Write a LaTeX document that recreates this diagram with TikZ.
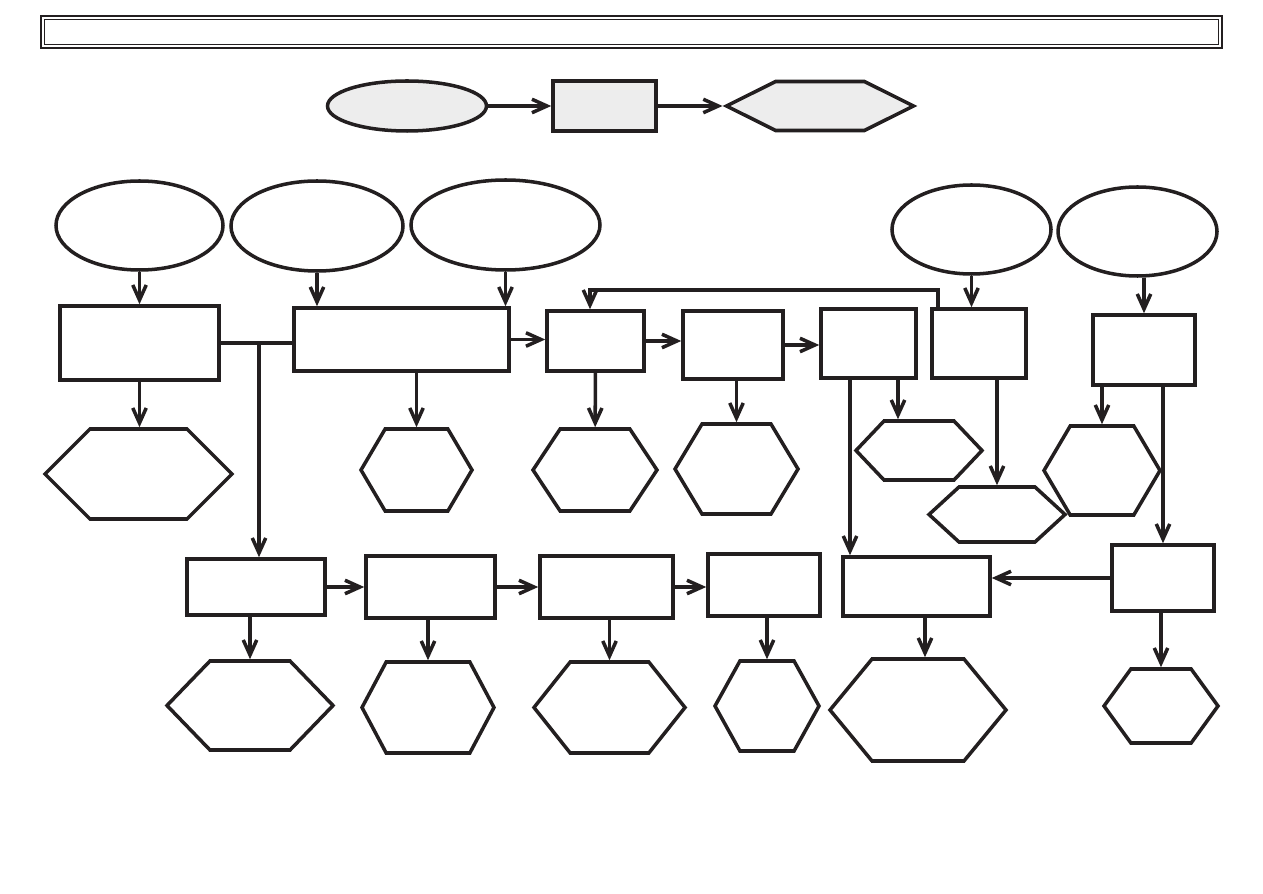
\documentclass[tikz,border=0pt]{standalone}
\usepackage{xcolor}
\usepackage{tikz}
\usetikzlibrary{arrows.meta,shapes.geometric,shapes.symbols}
\definecolor{ink}{HTML}{231F20}
\definecolor{shade}{HTML}{EDEDED}

\begin{document}
\begin{tikzpicture}[line width=2pt,draw=ink,
  arr/.style={-{Straight Barb[length=0.3cm,width=0.27cm]}},
  box/.style={draw=ink,rectangle,inner sep=0pt},
  oval/.style={draw=ink,ellipse,inner sep=0pt},
  hexa/.style={draw=ink,signal,signal from=nowhere,signal to=east and west,inner sep=0pt,signal pointer angle=#1},
  hexa/.default=110]
  \useasboundingbox (0,0) rectangle (25.26,17.86);
  % title bar
  \node[box,line width=1.5pt,minimum width=23.62cm,minimum height=0.64cm] (title) at (12.63,17.22) {};
  \draw[line width=0.6pt] ([shift={(0.09,-0.09)}]title.north west) rectangle ([shift={(-0.09,0.09)}]title.south east);
  % legend
  \node[oval,fill=shade,minimum width=3.18cm,minimum height=1.0cm] (lo) at (8.14,15.74) {};
  \node[box,fill=shade,minimum width=2.06cm,minimum height=1.0cm] (lb) at (12.09,15.74) {};
  \node[hexa=53,fill=shade,minimum width=3.74cm,minimum height=0.98cm] (lh) at (16.40,15.74) {};
  \draw[arr] (lo) -- (lb); \draw[arr] (lb) -- (lh);
  % inputs
  \node[oval,minimum width=3.34cm,minimum height=1.78cm] (e1) at (2.79,13.35) {};
  \node[oval,minimum width=3.44cm,minimum height=1.80cm] (e2) at (6.34,13.34) {};
  \node[oval,minimum width=3.78cm,minimum height=1.80cm] (e3) at (10.11,13.36) {};
  \node[oval,minimum width=3.18cm,minimum height=1.78cm] (e4) at (19.43,13.27) {};
  \node[oval,minimum width=3.18cm,minimum height=1.78cm] (e5) at (22.75,13.23) {};
  % first row of steps
  \node[box,minimum width=3.18cm,minimum height=1.48cm] (r1) at (2.79,11.00) {};
  \node[box,minimum width=4.30cm,minimum height=1.26cm] (r2) at (8.03,11.07) {};
  \node[box,minimum width=1.94cm,minimum height=1.20cm] (r3) at (11.91,11.04) {};
  \node[box,minimum width=2.00cm,minimum height=1.36cm] (r4) at (14.66,10.96) {};
  \node[box,minimum width=1.90cm,minimum height=1.38cm] (r5) at (17.37,10.99) {};
  \node[box,minimum width=1.88cm,minimum height=1.38cm] (r6) at (19.58,10.99) {};
  \node[box,minimum width=2.04cm,minimum height=1.40cm] (r7) at (22.88,10.86) {};
  % first row of results
  \node[hexa=90,minimum width=3.74cm,minimum height=1.80cm] (h1) at (2.77,8.38) {};
  \node[hexa=119,minimum width=2.22cm,minimum height=1.64cm] (h2) at (8.33,8.46) {};
  \node[hexa=113,minimum width=2.48cm,minimum height=1.64cm] (h3) at (11.90,8.46) {};
  \node[hexa=118,minimum width=2.46cm,minimum height=1.80cm] (h4) at (14.73,8.48) {};
  \node[hexa=93,minimum width=2.52cm,minimum height=1.18cm] (h5) at (18.38,8.85) {};
  \node[hexa=85,minimum width=2.72cm,minimum height=1.10cm] (h6) at (19.94,7.57) {};
  \node[hexa=119,minimum width=2.32cm,minimum height=1.78cm] (h7) at (22.04,8.45) {};
  % second row of steps
  \node[box,minimum width=2.76cm,minimum height=1.12cm] (r8) at (5.12,6.12) {};
  \node[box,minimum width=2.58cm,minimum height=1.24cm] (r9) at (8.61,6.12) {};
  \node[box,minimum width=2.66cm,minimum height=1.24cm] (r10) at (12.13,6.12) {};
  \node[box,minimum width=2.24cm,minimum height=1.24cm] (r11) at (15.28,6.16) {};
  \node[box,minimum width=2.94cm,minimum height=1.18cm] (r12) at (18.33,6.13) {};
  \node[box,minimum width=2.04cm,minimum height=1.32cm] (r13) at (23.26,6.30) {};
  % second row of results
  \node[hexa=92,minimum width=3.32cm,minimum height=1.78cm] (h8) at (5.00,3.75) {};
  \node[hexa=124,minimum width=2.64cm,minimum height=1.82cm] (h9) at (8.56,3.71) {};
  \node[hexa=103,minimum width=3.02cm,minimum height=1.82cm] (h10) at (12.19,3.71) {};
  \node[hexa=122,minimum width=2.08cm,minimum height=1.80cm] (h11) at (15.34,3.74) {};
  \node[hexa=101,minimum width=3.52cm,minimum height=2.04cm] (h12) at (18.36,3.66) {};
  \node[hexa=108,minimum width=2.28cm,minimum height=1.48cm] (h13) at (23.22,3.74) {};
  % inputs into steps
  \draw[arr] (e1) -- (r1);
  \draw[arr] (e2.south) -- (e2.south |- r2.north);
  \draw[arr] (e3.south) -- (e3.south |- r2.north);
  \draw[arr] (e4.south) -- (e4.south |- r6.north);
  \draw[arr] (r7.north |- e5.south) -- (r7.north);
  % flow along the first row
  \draw (r1.east) -- (r1.east -| r2.west);
  \coordinate (split) at (5.18,11.00);
  \draw[arr] (split) -- (split |- r8.north);
  \draw[arr] (r2.east) -- (r2.east -| r3.west);
  \draw[arr] (r3.east) -- (r3.east -| r4.west);
  \draw[arr] (r4.east) -- (r4.east -| r5.west);
  \coordinate (back) at (11.80,12.06);
  \draw[arr] ([xshift=-0.82cm]r6.north) |- (back) -- (back |- r3.north);
  % first row down to results
  \draw[arr] (r1.south) -- (r1.south |- h1.north);
  \draw[arr] (h2.north |- r2.south) -- (h2.north);
  \draw[arr] (r3) -- (h3);
  \draw[arr] (h4.north |- r4.south) -- (h4.north);
  \draw[arr] ([xshift=0.59cm]r5.south) -- ([xshift=0.59cm]r5.south |- h5.north);
  \draw[arr] ([xshift=-0.37cm]r5.south) -- ([xshift=-0.37cm]r5.south |- r12.north);
  \draw[arr] (h6.north |- r6.south) -- (h6.north);
  \draw[arr] (h7.north |- r7.south) -- (h7.north);
  \draw[arr] (r13.north |- r7.south) -- (r13.north);
  % flow along the second row
  \draw[arr] (r8.east) -- (r8.east -| r9.west);
  \draw[arr] (r9.east) -- (r9.east -| r10.west);
  \draw[arr] (r10.east) -- (r10.east -| r11.west);
  \draw[arr] (r13.west) -- (r13.west -| r12.east);
  % second row down to results
  \draw[arr] (h8.north |- r8.south) -- (h8.north);
  \draw[arr] (h9.north |- r9.south) -- (h9.north);
  \draw[arr] (h10.north |- r10.south) -- (h10.north);
  \draw[arr] (h11.north |- r11.south) -- (h11.north);
  \draw[arr] ([xshift=0.17cm]r12.south) -- ([xshift=0.17cm]r12.south |- h12.north);
  \draw[arr] (h13.north |- r13.south) -- (h13.north);
\end{tikzpicture}
\end{document}
